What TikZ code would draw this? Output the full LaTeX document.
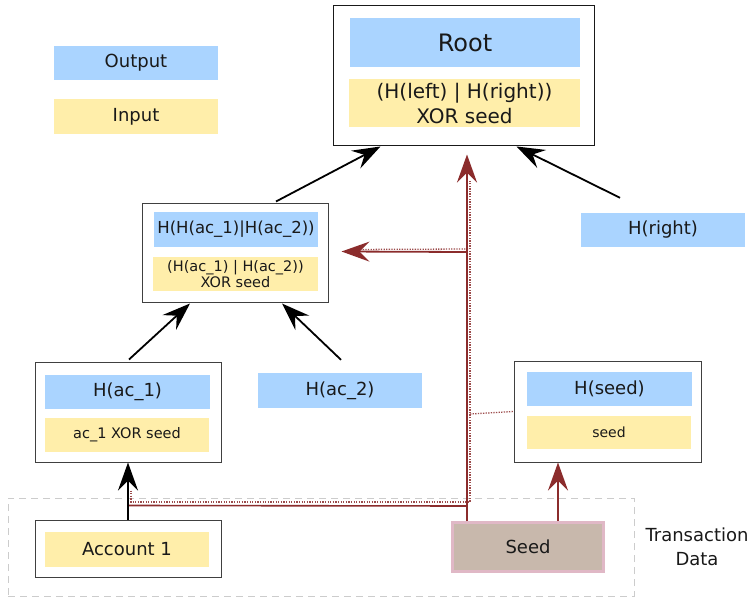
\documentclass[tikz,border=0pt]{standalone}
\usepackage{fontspec}
\setmainfont{DejaVu Sans}
\usetikzlibrary{arrows.meta,calc}
\definecolor{bluec}{HTML}{AAD4FF}
\definecolor{yellowc}{HTML}{FFEEAA}
\definecolor{redc}{HTML}{8B2C2C}
\definecolor{seedfill}{HTML}{C8B8AC}
\definecolor{seedline}{HTML}{E0B8C6}
\definecolor{dashc}{HTML}{CCCCCC}
\tikzset{
  outbox/.style={draw=black!75, line width=1pt, fill=white, inner sep=0pt},
  bluebox/.style={fill=bluec, inner sep=0pt, minimum width=164pt, minimum height=34pt, text=black!90, font=\fontsize{18}{22}\selectfont},
  yellowbox/.style={fill=yellowc, inner sep=0pt, minimum width=164pt, minimum height=34pt, text=black!90, font=\fontsize{18}{22}\selectfont, align=center},
  tipshape/.style={-{Stealth[length=28pt,width=20pt,inset=10pt]}},
  blackarrow/.style={line width=1.8pt, black, tipshape},
  redarrow/.style={line width=1.8pt, redc, tipshape},
  redline/.style={line width=1.6pt, redc},
  reddot/.style={line width=1.3pt, redc!85, dash pattern=on 1.3pt off 1.3pt},
}
\begin{document}
\begin{tikzpicture}[x=1pt,y=-1pt]
\useasboundingbox (0,0) rectangle (753,597);
% transaction data group
\node[draw=dashc, line width=1pt, dash pattern=on 7pt off 5pt, minimum width=626pt, minimum height=98pt, inner sep=0pt] (txgroup) at (321,547) {};
\node[font=\fontsize{18}{24}\selectfont, align=center, text=black!90] (txlabel) at (697,547) {Transaction\\Data};
% legend
\node[bluebox] (legout) at (136,63) {Output};
\node[yellowbox, minimum height=35pt] (legin) at (136,116.5) {Input};
% root
\node[outbox, draw=black!90, minimum width=261pt, minimum height=140pt] (rootbox) at (463.5,75) {};
\node[bluebox, minimum width=230pt, minimum height=49pt, font=\fontsize{24}{26}\selectfont] (rootout) at (465,42.5) {Root};
\node[yellowbox, minimum width=231pt, minimum height=48pt, font=\fontsize{20}{25}\selectfont] (rootin) at (464.5,103) {(H(left) | H(right))\\XOR seed};
% H(H(ac_1)|H(ac_2))
\node[outbox, minimum width=186pt, minimum height=99pt] (hhbox) at (235,252.5) {};
\node[bluebox, minimum height=35pt, font=\fontsize{16.5}{20}\selectfont] (hhout) at (236,229.5) {H(H(ac\_1)|H(ac\_2))};
\node[yellowbox, minimum width=165pt, font=\fontsize{14.5}{16.5}\selectfont] (hhin) at (235.5,274) {(H(ac\_1) | H(ac\_2))\\XOR seed};
% H(right)
\node[bluebox] (hright) at (663,230) {H(right)};
% ac_1
\node[outbox, minimum width=186pt, minimum height=100pt] (ac1box) at (128,412) {};
\node[bluebox, minimum width=165pt] (ac1out) at (127.5,392) {H(ac\_1)};
\node[yellowbox, font=\fontsize{14.5}{18}\selectfont] (ac1in) at (127,435) {ac\_1 XOR seed};
% ac_2
\node[bluebox, minimum height=35pt] (ac2) at (340,390.5) {H(ac\_2)};
% seed box
\node[outbox, minimum width=187pt, minimum height=101pt] (seedbox) at (607.5,411.5) {};
\node[bluebox, minimum width=165pt] (seedout) at (609.5,389) {H(seed)};
\node[yellowbox, minimum height=33pt, font=\fontsize{14}{18}\selectfont] (seedin) at (609,432.5) {seed};
% account 1
\node[outbox, minimum width=186pt, minimum height=57pt] (accbox) at (128,548.5) {};
\node[yellowbox, minimum height=35pt] (accin) at (127,549.5) {Account 1};
% seed
\node[draw=seedline, line width=3pt, fill=seedfill, minimum width=151pt, minimum height=49pt, inner sep=0pt, font=\fontsize{18}{22}\selectfont, text=black!90] (seed) at (528,547) {Seed};
% black arrows
\draw[blackarrow] ($(hhbox.north)+(41,-1)$) -- ($(rootbox.south)+(-83,1)$);
\draw[blackarrow] ($(hright.north)+(-43,-15)$) -- ($(rootbox.south)+(53,1)$);
\draw[blackarrow] ($(ac1box.north)+(1,-2)$) -- ($(hhbox.south)+(-45,1)$);
\draw[blackarrow] ($(ac2.north)+(1,-13)$) -- ($(hhbox.south)+(47,1)$);
% red connections
\coordinate (jroot) at ($(seed.north)+(-61,0)$);
\draw[reddot] ($(ac1box.south)+(3,28)$) |- ($(jroot)+(3,-19)$) -- ($(jroot)+(3,-340)$);
\draw[reddot] ($(jroot)+(3,-107)$) -- (seedbox.west);
\draw[reddot] ($(jroot)+(1,-272)$) -- ($(hhbox.east)+(22,-3)$);
\draw[redline] ($(jroot)+(0,-15)$) -- ($(accbox.north)+(1,-14)$);
\draw[redarrow] ($(jroot)+(0,-269)$) -- ($(hhbox.east)+(13,-1)$);
\draw[redarrow] (jroot) -- ($(rootbox.south)+(3.5,9)$);
\draw[redarrow] ($(seed.north)+(30,0)$) -- ($(seedbox.south)+(-49.5,0)$);
\draw[blackarrow] (accbox.north) -- (ac1box.south);
\end{tikzpicture}
\end{document}
